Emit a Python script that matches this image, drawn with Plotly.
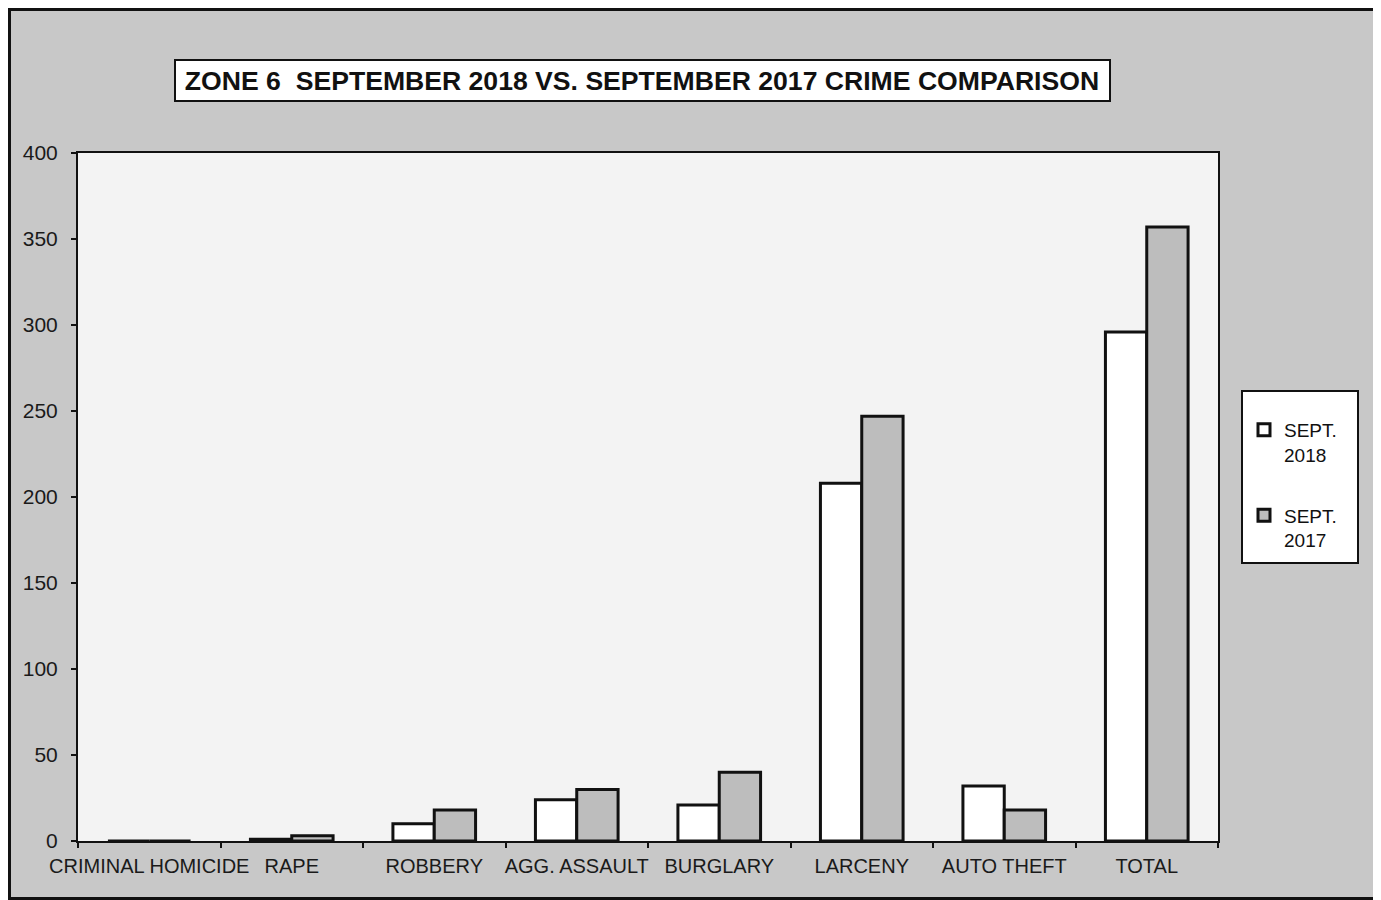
import plotly.graph_objects as go

categories = ["CRIMINAL HOMICIDE", "RAPE", "ROBBERY", "AGG. ASSAULT", "BURGLARY",
              "LARCENY", "AUTO THEFT", "TOTAL"]
sept_2018 = [0, 1, 10, 24, 21, 208, 32, 296]
sept_2017 = [0, 3, 18, 30, 40, 247, 18, 357]
series_names = ["SEPT.<br>2018", "SEPT.<br>2017"]
y_ticks = [0, 50, 100, 150, 200, 250, 300, 350, 400]
title_text = "ZONE 6  SEPTEMBER 2018 VS. SEPTEMBER 2017 CRIME COMPARISON"

# The page body has an 8px margin, so the figure starts at (8, 8) on screen.
OFF = 8
W, H = 1379 - OFF, 900 - OFF
# plot area in screen pixels (as in the reference)
L, R, T, B = 78, 1218, 153, 841
pw, ph = R - L, B - T

def px(x):
    return (x - L) / pw

def py(y):
    return (B - y) / ph

FONT = "Liberation Sans, Arial, Helvetica, sans-serif"

fig = go.Figure()
fig.add_trace(go.Bar(x=categories, y=sept_2018, name=series_names[0], legendgroup="a",
                     marker=dict(color="#ffffff", line=dict(color="#111111", width=3))))
fig.add_trace(go.Bar(x=categories, y=sept_2017, name=series_names[1], legendgroup="b",
                     marker=dict(color="#bdbdbd", line=dict(color="#111111", width=3))))

fig.update_layout(
    width=W, height=H,
    margin=dict(l=L - OFF, r=(W + OFF) - R, t=T - OFF, b=(H + OFF) - B, pad=0,
                autoexpand=False),
    paper_bgcolor="#c8c8c8",
    plot_bgcolor="#f3f3f3",
    barmode="group", bargap=0.42, bargroupgap=0,
    font=dict(family=FONT, size=19, color="#1a1a1a"),
    title=dict(text="<b>" + title_text + "</b>", x=(642 - OFF) / W, xanchor="center",
               y=1 - (81 - OFF) / H, yanchor="middle", yref="container",
               font=dict(family=FONT, size=26.6, color="#111111")),
    showlegend=True,
    legend=dict(x=px(1244), y=py(411), xanchor="left", yanchor="top",
                bgcolor="rgba(0,0,0,0)", borderwidth=0, tracegroupgap=33,
                font=dict(family=FONT, size=19, color="#111111"),
                itemwidth=30, valign="top", traceorder="grouped"),
    xaxis=dict(type="category", tickson="boundaries", ticks="outside", ticklen=5,
               tickwidth=2, tickcolor="#111111", tickangle=0, automargin=False,
               ticklabelstandoff=6,
               showline=True, linecolor="#111111", linewidth=2, mirror=True,
               showgrid=False, tickfont=dict(size=20)),
    yaxis=dict(range=[0, 400], tickvals=y_ticks, ticks="outside", ticklen=5,
               tickwidth=2, tickcolor="#111111", automargin=False,
               ticklabelstandoff=9,
               showline=True, linecolor="#111111", linewidth=2, mirror=True,
               showgrid=False, zeroline=False, tickfont=dict(size=21)),
    shapes=[
        dict(type="rect", xref="paper", yref="paper", x0=px(9.5), x1=px(1377.5),
             y0=py(898.5), y1=py(9.5), line=dict(color="#111111", width=3),
             fillcolor="rgba(0,0,0,0)", layer="below"),
        dict(type="rect", xref="paper", yref="paper", x0=px(175), x1=px(1110),
             y0=py(101), y1=py(60), line=dict(color="#111111", width=2),
             fillcolor="#ffffff", layer="above"),
        dict(type="rect", xref="paper", yref="paper", x0=px(1242), x1=px(1358),
             y0=py(563), y1=py(391), line=dict(color="#111111", width=2),
             fillcolor="#ffffff", layer="above"),
    ],
)

fig.write_html("out.html")
